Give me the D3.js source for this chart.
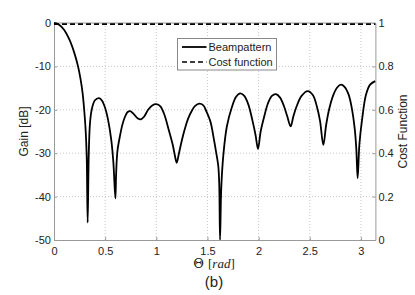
<!DOCTYPE html>
<html>
<head>
<meta charset="utf-8">
<script src="https://cdn.jsdelivr.net/npm/d3@7"></script>
<style>
  body { margin: 0; background: #fff; }
  svg text { font-family: "Liberation Sans", Arial, sans-serif; fill: #222; }
</style>
</head>
<body>
<div id="chart"></div>
<script>
// Beampattern samples: angle (rad) and gain (dB)
const theta = [0, 0.05, 0.1, 0.15, 0.2, 0.235, 0.26, 0.28, 0.295, 0.31, 0.32, 0.329,
  0.34, 0.352, 0.37, 0.40, 0.44, 0.47, 0.50, 0.53, 0.56, 0.58, 0.60,
  0.607, 0.62, 0.645, 0.67, 0.694, 0.72, 0.745, 0.78, 0.82, 0.85, 0.88, 0.92, 0.96, 1.0,
  1.04, 1.08, 1.12, 1.16, 1.19, 1.2, 1.22, 1.25, 1.28, 1.31, 1.35, 1.38, 1.42,
  1.46, 1.49, 1.53, 1.557, 1.59, 1.606, 1.615, 1.623, 1.635, 1.655, 1.69, 1.74,
  1.78, 1.82, 1.86, 1.90, 1.94, 1.97, 1.994, 2.02, 2.05, 2.09, 2.13, 2.17, 2.21,
  2.25, 2.28, 2.313, 2.34, 2.37, 2.42, 2.48, 2.53, 2.57, 2.60, 2.633, 2.66, 2.69,
  2.73, 2.77, 2.805, 2.84, 2.88, 2.91, 2.94, 2.955, 2.968, 2.985, 3.01, 3.05,
  3.09, 3.14];
const gainDb = [0, -0.4, -1.6, -3.8, -7.0, -10, -13, -16.2, -20, -25, -31, -46,
  -30, -23, -19.8, -17.8, -17.3, -17.9, -19.6, -22.5, -27, -32, -40.4,
  -35, -29.5, -26, -23.3, -21.6, -20.5, -20.3, -21.0, -22.0, -22.2, -21.6, -20.0, -19.0, -18.7,
  -19.2, -21.2, -24.5, -28, -31.5, -32.2, -30.2, -27, -24.3, -22.1, -20.1, -19.1, -18.6,
  -19.0, -20.4, -22.8, -26, -30.5, -33, -37, -50, -38, -30.5, -23.8, -19.3,
  -17, -16.2, -16.8, -18.8, -22.5, -25.8, -29.0, -25, -22, -18.6, -16.8, -16.4, -17.2,
  -19.3, -21.5, -23.8, -21.5, -19.3, -16.8, -15.7, -16.6, -19.3, -22.5, -28.1, -23.5, -19.8,
  -16.6, -14.8, -14.2, -14.7, -16.5, -19.5, -24.5, -29, -35.8, -28, -22.5, -16.5,
  -14.2, -13.4];

// Cost function (right axis)
const costTheta = [0, Math.PI];
const costValue = [0.995, 0.995];

const xTicks = [0, 0.5, 1, 1.5, 2, 2.5, 3];
const yTicks = [0, -10, -20, -30, -40, -50];
const y2Ticks = [0, 0.2, 0.4, 0.6, 0.8, 1];
const legendLabels = ['Beampattern', 'Cost function'];

const W = 415, H = 295;
const margin = { top: 23, right: 39.6, bottom: 55, left: 54 };
const width = W - margin.left - margin.right;
const height = H - margin.top - margin.bottom;

const svg = d3.select('#chart').append('svg')
  .attr('width', W)
  .attr('height', H);

svg.append('clipPath').attr('id', 'plotclip')
  .append('rect').attr('x', -2).attr('y', -2).attr('width', width + 4).attr('height', height + 2);

const g = svg.append('g')
  .attr('transform', `translate(${margin.left},${margin.top})`);

const x = d3.scaleLinear().domain([0, Math.PI]).range([0, width]);
const y = d3.scaleLinear().domain([-50, 0]).range([height, 0]);
const y2 = d3.scaleLinear().domain([0, 1]).range([height, 0]);

// grid
g.append('g').selectAll('line').data(xTicks.filter(d => d > 0)).enter().append('line')
  .attr('x1', d => x(d)).attr('x2', d => x(d))
  .attr('y1', 0).attr('y2', height)
  .attr('stroke', '#c8c8c8').attr('stroke-width', 1).attr('stroke-dasharray', '1,2');
g.append('g').selectAll('line').data(yTicks.filter(d => d > -50 && d < 0)).enter().append('line')
  .attr('x1', 0).attr('x2', width)
  .attr('y1', d => y(d)).attr('y2', d => y(d))
  .attr('stroke', '#c8c8c8').attr('stroke-width', 1).attr('stroke-dasharray', '1,2');

// axes (MATLAB style: ticks pointing inward)
const axisColor = '#999';
const xAxis = g.append('g')
  .attr('transform', `translate(0,${height})`)
  .call(d3.axisBottom(x).tickValues(xTicks).tickSizeInner(-3).tickSizeOuter(0)
    .tickPadding(7).tickFormat(d => String(d)));
const yAxis = g.append('g')
  .call(d3.axisLeft(y).tickValues(yTicks).tickSizeInner(-3).tickSizeOuter(0)
    .tickPadding(3).tickFormat(d => String(d)));
const y2Axis = g.append('g')
  .attr('transform', `translate(${width},0)`)
  .call(d3.axisRight(y2).tickValues(y2Ticks).tickSizeInner(-3).tickSizeOuter(0)
    .tickPadding(3).tickFormat(d => String(d)));

g.append('line').attr('x1', 0).attr('x2', width).attr('y1', 0).attr('y2', 0)
  .attr('stroke', axisColor);

[xAxis, yAxis, y2Axis].forEach(a => {
  a.selectAll('path, line').attr('stroke', axisColor);
  a.selectAll('text').style('font-size', '11px').attr('fill', '#222');
});

// beampattern
const beam = theta.map((t, i) => ({ t, v: gainDb[i] }));
g.append('path')
  .datum(beam)
  .attr('clip-path', 'url(#plotclip)')
  .attr('fill', 'none')
  .attr('stroke', '#000')
  .attr('stroke-width', 1.8)
  .attr('stroke-linejoin', 'round')
  .attr('d', d3.line().x(d => x(d.t)).y(d => y(d.v)).curve(d3.curveCatmullRom.alpha(0.5)));

// cost function
const cost = costTheta.map((t, i) => ({ t, v: costValue[i] }));
g.append('path')
  .datum(cost)
  .attr('fill', 'none')
  .attr('stroke', '#000')
  .attr('stroke-width', 1.6)
  .attr('stroke-dasharray', '5,3')
  .attr('d', d3.line().x(d => x(d.t)).y(d => y2(d.v)));

// legend
const lg = svg.append('g').attr('transform', 'translate(177.5,38.5)');
lg.append('rect').attr('width', 99).attr('height', 31.5)
  .attr('fill', '#fff').attr('stroke', '#888').attr('stroke-width', 1);
legendLabels.forEach((label, i) => {
  const yy = 8.5 + i * 15;
  lg.append('line')
    .attr('x1', 4.5).attr('x2', 29).attr('y1', yy).attr('y2', yy)
    .attr('stroke', '#000').attr('stroke-width', i === 0 ? 1.8 : 1.6)
    .attr('stroke-dasharray', i === 0 ? null : '5,3');
  lg.append('text').attr('x', 31).attr('y', yy + 4)
    .style('font-size', '11px').text(label);
});

// axis titles
svg.append('text')
  .attr('transform', `translate(28,${margin.top + height / 2}) rotate(-90)`)
  .attr('text-anchor', 'middle')
  .style('font-size', '12px')
  .text('Gain [dB]');

svg.append('text')
  .attr('transform', `translate(407,${margin.top + height / 2}) rotate(-90)`)
  .attr('text-anchor', 'middle')
  .style('font-size', '12px')
  .text('Cost Function');

const xt = svg.append('text')
  .attr('x', 214).attr('y', 268)
  .attr('text-anchor', 'middle')
  .style('font-size', '13px');
xt.append('tspan').style('font-family', '"DejaVu Serif", serif').text('Θ ');
xt.append('tspan').style('font-family', '"Liberation Serif", serif').text('[');
xt.append('tspan').style('font-family', '"Liberation Serif", serif').style('font-style', 'italic').text('rad');
xt.append('tspan').style('font-family', '"Liberation Serif", serif').text(']');

svg.append('text')
  .attr('x', 214).attr('y', 287)
  .attr('text-anchor', 'middle')
  .style('font-size', '15px')
  .text('(b)');
</script>
</body>
</html>
